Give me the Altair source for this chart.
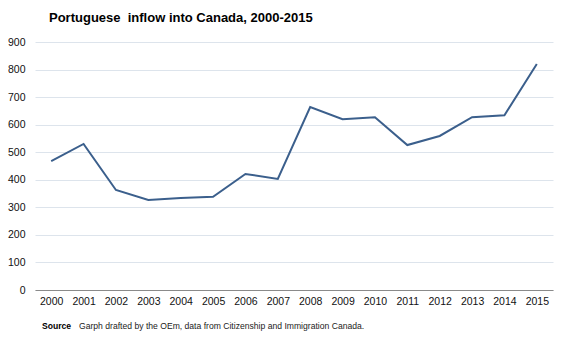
import altair as alt
import pandas as pd

years = [str(y) for y in range(2000, 2016)]
inflow = [468, 530, 363, 327, 334, 338, 421, 403, 664, 620, 627, 526, 559, 627, 634, 820]

title_text = "Portuguese\u00a0 inflow into Canada, 2000-2015"
source_label = "Source"
source_text = "Garph drafted by the OEm, data from Citizenship and Immigration Canada."

FONT = "Liberation Sans"

df = pd.DataFrame({"year": years, "inflow": inflow})

line = alt.Chart(df).mark_line(color="#3b5f8c", strokeWidth=2).encode(
    x=alt.X("year:O", title=None,
            axis=alt.Axis(labelAngle=0, ticks=False, domainColor="#8a8a8a",
                          labelPadding=6, labelFont=FONT, labelFontSize=10.5,
                          labelColor="#111111", grid=False)),
    y=alt.Y("inflow:Q", title=None,
            scale=alt.Scale(domain=[0, 900], nice=False),
            axis=alt.Axis(values=list(range(0, 901, 100)), ticks=False, domain=False,
                          labelPadding=10, labelFont=FONT, labelFontSize=10.5,
                          labelColor="#111111", gridColor="#dde4ec", gridWidth=1)),
)

title = alt.Chart(pd.DataFrame({"t": [title_text]})).mark_text(
    align="left", baseline="middle", font=FONT, fontSize=13, fontWeight="bold", color="#000000"
).encode(text="t:N", x=alt.value(14), y=alt.value(-24))

src1 = alt.Chart(pd.DataFrame({"t": [source_label]})).mark_text(
    align="left", baseline="middle", font=FONT, fontSize=8.6, fontWeight="bold", color="#000000"
).encode(text="t:N", x=alt.value(7), y=alt.value(284))

src2 = alt.Chart(pd.DataFrame({"t": [source_text]})).mark_text(
    align="left", baseline="middle", font=FONT, fontSize=8.6, color="#222222"
).encode(text="t:N", x=alt.value(44), y=alt.value(284))

chart = alt.layer(line, title, src1, src2).properties(
    width=518, height=248,
    autosize=alt.AutoSizeParams(type="none"),
    padding={"left": 35, "top": 42, "right": 14, "bottom": 50},
    view=alt.ViewBackground(strokeOpacity=0, strokeWidth=0),
).configure_view(strokeWidth=0, strokeOpacity=0).configure(background="white")

chart.save("out.html", embed_options={"renderer": "svg", "actions": False})
